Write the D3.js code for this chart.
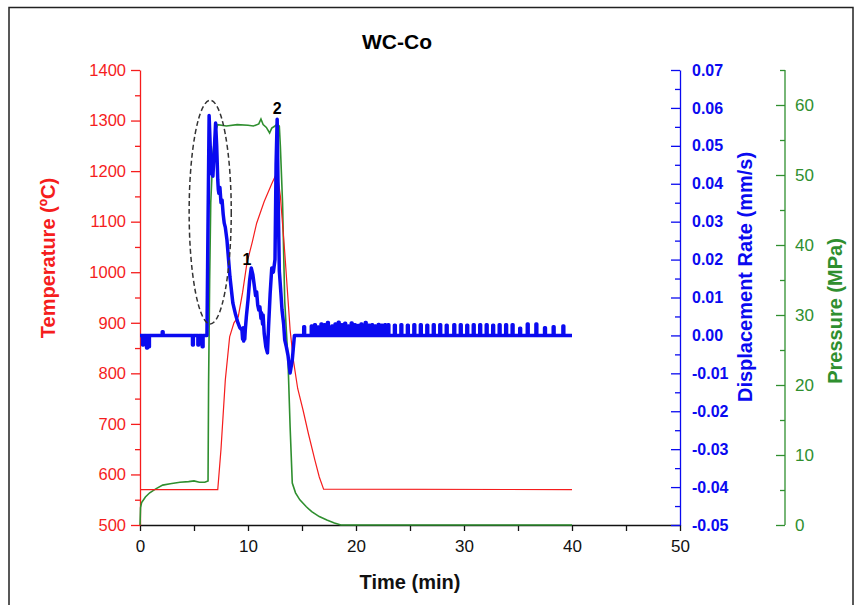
<!DOCTYPE html>
<html>
<head>
<meta charset="utf-8">
<script src="https://cdn.jsdelivr.net/npm/d3@7/dist/d3.min.js"></script>
<style>
  body { margin: 0; background: #fff; }
  svg { font-family: "Liberation Sans", Arial, sans-serif; }
</style>
</head>
<body>
<svg id="chart" width="855" height="605"></svg>
<script>
// temperature (red)
const tempTime = [0, 7.2, 7.5, 7.9, 8.3, 8.7, 9.1, 9.5, 9.9, 10.4, 10.8, 11.5, 12.2, 12.7, 13.0, 13.4, 13.9, 14.2, 14.6, 15.1, 15.6, 16.2, 16.6, 17.0, 40];
const tempC = [570, 570, 650, 787, 872, 900, 912, 960, 1018, 1060, 1097, 1140, 1175, 1198, 1150, 1040, 886, 826, 770, 727, 680, 628, 595, 571, 570];

// pressure (green)
const presTime = [0, 0.05, 0.15, 0.5, 0.9, 1.5, 2.1, 2.8, 3.7, 4.5, 5.0, 5.5, 6.0, 6.3, 6.35, 6.45, 6.55, 6.75, 6.95, 7.2, 8.0, 9.0, 10.0, 10.5, 11.0, 11.2, 11.4, 11.7, 12.0, 12.2, 12.5, 12.7, 12.9, 13.0, 13.2, 13.4, 13.7, 13.9, 14.1, 14.4, 14.8, 15.4, 15.9, 16.6, 17.3, 18.0, 18.6, 40];
const presMPa = [0, 2.5, 3.2, 4.0, 4.6, 5.2, 5.7, 5.9, 6.1, 6.2, 6.3, 6.1, 6.1, 6.3, 20, 35, 46, 53, 56, 57.2, 57.0, 57.2, 57.1, 57.0, 57.3, 58.0, 57.2, 56.8, 56.0, 56.7, 57.0, 57.3, 57, 54, 46, 32, 23.6, 14, 6, 4.6, 3.6, 2.6, 1.9, 1.2, 0.7, 0.3, 0, 0];

// displacement rate (blue): main densification event
const rateTime = [6.2, 6.3, 6.4, 6.5, 6.6, 6.75, 6.9, 7.0, 7.1, 7.2, 7.25, 7.3, 7.4, 7.5, 7.6, 7.7, 7.8, 7.9, 8.05, 8.2, 8.33, 8.6, 8.85, 9.07, 9.25, 9.44, 9.5, 9.55, 9.6, 9.65, 9.7, 9.75, 9.85, 10.0, 10.15, 10.3, 10.45, 10.6, 10.7, 10.8, 10.9, 11.0, 11.1, 11.2, 11.25, 11.35, 11.4, 11.5, 11.65, 11.8, 11.9, 12.05, 12.2, 12.35, 12.5, 12.6, 12.7, 12.8, 12.9, 13.05, 13.15, 13.3, 13.4, 13.55, 13.7, 13.9, 14.1, 14.3, 14.4];
const rateMM = [0, 0.03, 0.058, 0.05, 0.043, 0.042, 0.05, 0.056, 0.05, 0.041, 0.0385, 0.0375, 0.039, 0.035, 0.0357, 0.032, 0.0296, 0.0285, 0.0252, 0.02, 0.0154, 0.0085, 0.0055, 0.0033, 0.002, 0.0014, -0.001, 0.002, -0.0015, 0.0012, -0.001, 0.0015, 0.005, 0.0093, 0.0145, 0.0178, 0.016, 0.0128, 0.0105, 0.0115, 0.008, 0.0067, 0.0075, 0.0045, 0.006, 0.003, 0.0054, 0.0005, -0.003, -0.0046, 0.002, 0.011, 0.0178, 0.0167, 0.02, 0.045, 0.057, 0.035, 0.017, 0.011, 0.0067, 0.003, -0.0012, -0.003, -0.0052, -0.0099, -0.0065, 0, 0];

// small spikes on the blue baseline
const preSpikeTime = [0.28, 0.65, 0.83, 2.1, 4.9, 5.4, 5.8];
const preSpikeRate = [-0.0025, -0.0033, -0.003, 0.001, -0.0025, -0.0025, -0.003];
const postSpikeTime = [15.2, 15.9, 16.2, 16.5, 16.8, 17.1, 17.4, 17.8, 18.1, 18.4, 18.7, 19.0, 19.3, 19.6, 19.9, 20.2, 20.5, 20.9, 21.2, 21.5, 21.8, 22.1, 22.4, 22.7, 23.0,
  23.6, 24.2, 24.8, 25.4, 26.0, 26.6, 27.2, 27.8, 28.4, 29.1, 29.7, 30.3, 30.9, 31.5, 32.1, 32.7, 33.3, 33.9, 34.5,
  35.2, 35.9, 36.7, 37.5, 38.3, 39.2];
const postSpikeRate = [0.0023, 0.0025, 0.0028, 0.0022, 0.003, 0.0028, 0.0034, 0.0025, 0.003, 0.0035, 0.0028, 0.0032, 0.0025, 0.0033, 0.0028, 0.0026, 0.003, 0.0034, 0.0027, 0.0028, 0.0025, 0.0029, 0.0027, 0.0028, 0.0028,
  0.0027, 0.0028, 0.0027, 0.0028, 0.0028, 0.0027, 0.0028, 0.0028, 0.0027, 0.0028, 0.0028, 0.0027, 0.0028, 0.0028, 0.0028, 0.0027, 0.0028, 0.0028, 0.0028,
  0.0019, 0.003, 0.003, 0.002, 0.0023, 0.0025];

const timeTicks = [0, 5, 10, 15, 20, 25, 30, 35, 40, 45, 50];
const tempTicks = [500, 600, 700, 800, 900, 1000, 1100, 1200, 1300, 1400];
const tempMinor = [550, 650, 750, 850, 950, 1050, 1150, 1250, 1350];
const rateTicks = [-0.05, -0.04, -0.03, -0.02, -0.01, 0, 0.01, 0.02, 0.03, 0.04, 0.05, 0.06, 0.07];
const rateMinor = [-0.045, -0.035, -0.025, -0.015, -0.005, 0.005, 0.015, 0.025, 0.035, 0.045, 0.055, 0.065];
const presTicks = [0, 10, 20, 30, 40, 50, 60];
const presMinor = [5, 15, 25, 35, 45, 55, 65];

const RED = '#f51d1d';
const BLUE = '#0a0af0';
const GREEN = '#2f8f2f';

const svg = d3.select('#chart');
const plotLeft = 140, plotRight = 680, plotTop = 70, plotBottom = 525;

// frame
svg.append('rect')
  .attr('x', 9).attr('y', 7.5)
  .attr('width', 844).attr('height', 640)
  .style('fill', 'none').style('stroke', '#222').style('stroke-width', 1.5);

const x = d3.scaleLinear().domain([0, 50]).range([plotLeft, plotRight]);
const yT = d3.scaleLinear().domain([500, 1400]).range([plotBottom, plotTop]);
const yR = d3.scaleLinear().domain([-0.05, 0.07]).range([plotBottom, plotTop]);
const yP = d3.scaleLinear().domain([0, 65]).range([plotBottom, plotTop]);

function styleAxis(g, colour, size, weight) {
  g.selectAll('.domain').style('stroke', colour).style('stroke-width', 1.3);
  g.selectAll('.tick line').style('stroke', colour).style('stroke-width', 1.3);
  g.selectAll('.tick text').style('fill', colour).style('font-size', size + 'px').style('font-weight', weight)
    .style('font-family', '"Liberation Sans", Arial, sans-serif');
}

// x axis
const gx = svg.append('g').attr('transform', `translate(0,${plotBottom})`)
  .call(d3.axisBottom(x).tickValues(timeTicks).tickSize(6).tickSizeOuter(0)
    .tickFormat(d => d % 10 === 0 ? d : ''));
styleAxis(gx, '#111', 17, 'normal');
gx.selectAll('.tick text').attr('dy', '1.05em');

// temperature axis
const gT = svg.append('g').attr('transform', `translate(${plotLeft},0)`)
  .call(d3.axisLeft(yT).tickValues(tempTicks).tickSize(9).tickSizeOuter(0).tickPadding(5)
    .tickFormat(d3.format('d')));
gT.append('g').call(d3.axisLeft(yT).tickValues(tempMinor).tickSize(5).tickFormat(''))
  .select('.domain').remove();
styleAxis(gT, RED, 16.5, 'normal');

// rate axis (ticks pointing inward)
const gR = svg.append('g').attr('transform', `translate(${plotRight},0)`)
  .call(d3.axisRight(yR).tickValues(rateTicks).tickSize(-9).tickSizeOuter(0).tickPadding(12)
    .tickFormat(d => d3.format('.2f')(d).replace('−', '-')));
gR.append('g').call(d3.axisRight(yR).tickValues(rateMinor).tickSize(-5).tickFormat(''))
  .select('.domain').remove();
styleAxis(gR, BLUE, 16, 'bold');

// pressure axis
const presX = 785;
const gP = svg.append('g').attr('transform', `translate(${presX},0)`)
  .call(d3.axisRight(yP).tickValues(presTicks).tickSize(-9).tickSizeOuter(0).tickPadding(10));
gP.append('g').call(d3.axisRight(yP).tickValues(presMinor).tickSize(-5).tickFormat(''))
  .select('.domain').remove();
styleAxis(gP, GREEN, 17, 'normal');
gP.select('.domain').attr('d', `M0,${yP(0)}V${yP(65)}`);

// axis titles
svg.append('text').attr('x', 397).attr('y', 49)
  .attr('text-anchor', 'middle').style('font-size', '21px').style('font-weight', 'bold')
  .text('WC-Co');
svg.append('text').attr('x', 410).attr('y', 589)
  .attr('text-anchor', 'middle').style('font-size', '20px').style('font-weight', 'bold').style('fill', '#111')
  .text('Time (min)');
svg.append('text').attr('transform', 'translate(55,258) rotate(-90)')
  .attr('text-anchor', 'middle').style('font-size', '20px').style('font-weight', 'bold').style('fill', RED)
  .text('Temperature (ºC)');
svg.append('text').attr('transform', 'translate(752,277) rotate(-90)')
  .attr('text-anchor', 'middle').style('font-size', '20px').style('font-weight', 'bold').style('fill', BLUE)
  .text('Displacement Rate (mm/s)');
svg.append('text').attr('transform', 'translate(842,311) rotate(-90)')
  .attr('text-anchor', 'middle').style('font-size', '20px').style('font-weight', 'bold').style('fill', GREEN)
  .text('Pressure (MPa)');

// series
const tempLine = d3.line().x(d => x(d[0])).y(d => yT(d[1]));
const presLine = d3.line().x(d => x(d[0])).y(d => yP(d[1]));
const rateLine = d3.line().x(d => x(d[0])).y(d => yR(d[1]));

svg.append('path')
  .attr('d', presLine(d3.zip(presTime, presMPa)))
  .style('fill', 'none').style('stroke', GREEN).style('stroke-width', 1.6);

svg.append('path')
  .attr('d', tempLine(d3.zip(tempTime, tempC)))
  .style('fill', 'none').style('stroke', RED).style('stroke-width', 1.2);

// blue: baseline with pulses, the event, then baseline with pulses
function pulses(times, rates) {
  const pts = [];
  times.forEach((t, i) => {
    pts.push([t - 0.04, 0], [t - 0.04, rates[i]], [t + 0.04, rates[i]], [t + 0.04, 0]);
  });
  return pts;
}
const ratePoints = [[0, 0]]
  .concat(pulses(preSpikeTime, preSpikeRate))
  .concat(d3.zip(rateTime, rateMM))
  .concat(pulses(postSpikeTime, postSpikeRate))
  .concat([[40, 0]]);

svg.append('path')
  .attr('d', rateLine(ratePoints))
  .style('fill', 'none').style('stroke', BLUE).style('stroke-width', 3.5)
  .style('stroke-linejoin', 'round');

// annotations
svg.append('ellipse')
  .attr('cx', x(6.5)).attr('cy', yR(0.0325))
  .attr('rx', x(1.95) - x(0)).attr('ry', yR(0) - yR(0.0295))
  .style('fill', 'none').style('stroke', '#333').style('stroke-width', 1.5)
  .style('stroke-dasharray', '5,3');

svg.append('text').attr('x', x(9.9)).attr('y', yR(0.017) - 6)
  .attr('text-anchor', 'middle').style('font-size', '16px').style('font-weight', 'bold')
  .text('1');
svg.append('text').attr('x', x(12.7)).attr('y', yR(0.057) - 5)
  .attr('text-anchor', 'middle').style('font-size', '16px').style('font-weight', 'bold')
  .text('2');
</script>
</body>
</html>
